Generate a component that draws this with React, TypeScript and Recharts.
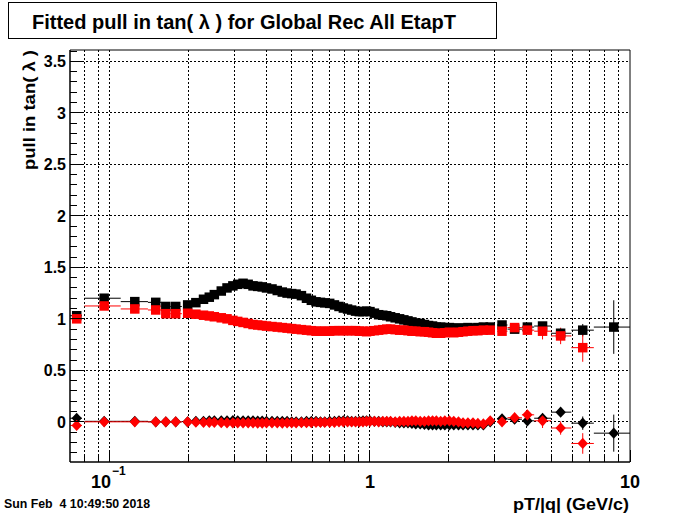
import React from 'react';
import { ScatterChart, Scatter, XAxis, YAxis, CartesianGrid, ErrorBar, ReferenceArea } from 'recharts';

// ---------- data ----------
const PT = [
  0.0745, 0.095, 0.1246, 0.150, 0.164, 0.179,
  0.199, 0.214, 0.229, 0.241, 0.252,
  0.268, 0.282, 0.297, 0.31, 0.325,
  0.34, 0.355, 0.37, 0.385, 0.40,
  0.42, 0.44, 0.46, 0.48, 0.50,
  0.52, 0.545, 0.57, 0.595, 0.62,
  0.645, 0.67, 0.70, 0.73, 0.76,
  0.79, 0.82, 0.85, 0.88, 0.91,
  0.94, 0.97, 1.0, 1.04, 1.08,
  1.12, 1.16, 1.20, 1.25, 1.30,
  1.35, 1.40, 1.45, 1.50, 1.56,
  1.62, 1.68, 1.74, 1.80, 1.87,
  1.94, 2.02, 2.10, 2.19, 2.28,
  2.38, 2.49, 2.6, 2.73, 2.9,
  3.22, 3.60, 4.03, 4.61, 5.41, 6.58, 8.66,
];

const BLACK_SQ: (number | null)[] = [
  1.03, 1.20, 1.167, 1.16, 1.12, 1.12,
  1.135, 1.157, 1.19, 1.21, 1.235,
  1.27, 1.30, 1.32, 1.335, 1.345,
  1.335, 1.32, 1.315, 1.31, 1.30,
  1.29, 1.275, 1.26, 1.25, 1.245,
  1.24, 1.225, 1.20, 1.18, 1.165,
  1.16, 1.155, 1.15, 1.135, 1.12,
  1.105, 1.095, 1.085, 1.075, 1.07,
  1.07, 1.075, 1.07, 1.055, 1.04,
  1.035, 1.03, 1.02, 1.01, 1.0,
  0.99, 0.98, 0.97, 0.96, 0.955,
  0.945, 0.935, 0.93, 0.92, 0.92,
  0.915, 0.915, 0.91, 0.91, 0.91,
  0.915, 0.91, 0.915, 0.92, 0.92,
  0.94, 0.90, 0.92, 0.93, 0.86, 0.89, 0.92,
];

const RED_SQ: (number | null)[] = [
  1.00, 1.125, 1.096, 1.086, 1.05, 1.05,
  1.054, 1.045, 1.035, 1.028, 1.02,
  1.01, 1.00, 0.985, 0.975, 0.965,
  0.955, 0.945, 0.94, 0.935, 0.93,
  0.925, 0.92, 0.915, 0.91, 0.905,
  0.90, 0.895, 0.89, 0.885, 0.88,
  0.88, 0.88, 0.88, 0.885, 0.885,
  0.885, 0.885, 0.885, 0.885, 0.88,
  0.88, 0.875, 0.88, 0.885, 0.89,
  0.895, 0.90, 0.90, 0.895, 0.89,
  0.89, 0.885, 0.88, 0.88, 0.875,
  0.875, 0.87, 0.865, 0.86, 0.86,
  0.865, 0.87, 0.865, 0.87, 0.875,
  0.88, 0.885, 0.885, 0.89, 0.89,
  0.88, 0.915, 0.89, 0.88, 0.834, 0.72, null,
];

const BLACK_DI: (number | null)[] = [
  0.035, 0.005, 0.005, 0.0, 0.0, 0.0,
  0.0, 0.005, 0.005, 0.01, 0.01,
  0.01, 0.01, 0.012, 0.01, 0.01,
  0.01, 0.01, 0.008, 0.008, 0.005,
  0.005, 0.005, 0.005, 0.005, 0.0,
  0.0, 0.0, 0.005, 0.005, 0.005,
  0.0, 0.0, 0.005, 0.005, 0.01,
  0.01, 0.01, 0.005, 0.005, 0.005,
  0.01, 0.01, 0.01, 0.005, 0.005,
  0.0, 0.0, 0.0, -0.005, -0.01,
  -0.01, -0.01, -0.015, -0.02, -0.02,
  -0.025, -0.03, -0.03, -0.03, -0.03,
  -0.03, -0.03, -0.03, -0.03, -0.03,
  -0.03, -0.03, -0.03, -0.03, 0.0,
  0.03, 0.025, 0.01, 0.035, 0.094, -0.013, -0.11,
];

const RED_DI: (number | null)[] = [
  -0.035, 0.0, 0.0, 0.0, 0.0, 0.0,
  0.0, -0.003, -0.005, -0.005, -0.005,
  -0.008, -0.01, -0.01, -0.01, -0.01,
  -0.01, -0.01, -0.012, -0.012, -0.01,
  -0.01, -0.01, -0.012, -0.01, -0.01,
  -0.01, -0.008, -0.008, -0.008, -0.005,
  -0.005, -0.005, -0.005, -0.005, 0.0,
  0.0, 0.0, 0.0, 0.0, 0.0,
  0.0, 0.005, 0.005, 0.005, 0.0,
  0.005, 0.005, 0.005, 0.0, 0.005,
  0.005, 0.005, 0.01, 0.01, 0.005,
  0.005, 0.01, 0.01, 0.01, 0.005,
  0.01, 0.01, 0.005, 0.0, -0.01,
  -0.01, -0.01, -0.015, -0.02, 0.01,
  0.0, 0.04, 0.068, 0.01, -0.06, -0.21, null,
];

// bin edges (horizontal error bars) where visible
const BIN_PT = [0.0745, 0.095, 0.1246, 0.150, 0.164, 0.179, 3.22, 3.60, 4.03, 4.61, 5.41, 6.58, 8.66];
const BIN_LO = [0.0702, 0.0798, 0.110, 0.140, 0.158, 0.171, 3.08, 3.38, 3.84, 4.28, 4.97, 5.95, 7.26];
const BIN_HI = [0.078, 0.110, 0.140, 0.158, 0.171, 0.189, 3.38, 3.84, 4.28, 4.97, 5.95, 7.26, 10];

// vertical errors where visible
const ERR_PT = [4.03, 4.61, 5.41, 6.58, 8.66];
const BLACK_SQ_ERR = [0, 0.03, 0.03, 0.06, 0.26];
const RED_SQ_ERR = [0.03, 0.08, 0.08, 0.137, 0];
const BLACK_DI_ERR = [0, 0.02, 0.04, 0.065, 0.18];
const RED_DI_ERR = [0.03, 0.07, 0.065, 0.1, 0];

// axes
const XMIN = 0.0702;
const XMAX = 10;
const YMIN = -0.39;
const YMAX = 3.61;
const X_TICKS = [0.08, 0.09, 0.1, 0.2, 0.3, 0.4, 0.5, 0.6, 0.7, 0.8, 0.9, 1, 2, 3, 4, 5, 6, 7, 8, 9, 10];
const X_MAJOR = [0.1, 1, 10];
const X_MAJOR_BASE = ['10', '1', '10'];
const X_MAJOR_EXP = ['\u22121', '', ''];
const X_GRID = [0.08, 0.09, 0.1, 0.2, 0.3, 0.4, 0.5, 0.6, 0.7, 0.8, 0.9, 1, 2, 3, 4, 5, 6, 7, 8, 9];
const Y_MAJOR = [0, 0.5, 1, 1.5, 2, 2.5, 3, 3.5];
const Y_MAJOR_LABELS = ['0', '0.5', '1', '1.5', '2', '2.5', '3', '3.5'];
const Y_TICKS = [
  -0.3, -0.2, -0.1, 0, 0.1, 0.2, 0.3, 0.4, 0.5, 0.6, 0.7, 0.8, 0.9, 1,
  1.1, 1.2, 1.3, 1.4, 1.5, 1.6, 1.7, 1.8, 1.9, 2, 2.1, 2.2, 2.3, 2.4, 2.5,
  2.6, 2.7, 2.8, 2.9, 3, 3.1, 3.2, 3.3, 3.4, 3.5, 3.6,
];

const TITLE = 'Fitted pull in tan( \u03bb ) for Global Rec All EtapT';
const Y_TITLE = 'pull in tan( \u03bb )';
const X_TITLE = 'pT/|q| (GeV/c)';
const DATE = 'Sun Feb  4 10:49:50 2018';

const FONT = '"Liberation Sans", Arial, Helvetica, sans-serif';
const RED = '#ff0000';

function buildRows(vals: (number | null)[], errs: number[]) {
  const out: any[] = [];
  PT.forEach((pt, i) => {
    const v = vals[i];
    if (v === null || v === undefined) return;
    const bi = BIN_PT.indexOf(pt);
    const ei = ERR_PT.indexOf(pt);
    out.push({
      pt,
      v,
      ex: bi >= 0 ? [pt - BIN_LO[bi], BIN_HI[bi] - pt] : [0, 0],
      ey: ei >= 0 ? errs[ei] : 0,
    });
  });
  return out;
}

const blackSq = buildRows(BLACK_SQ, BLACK_SQ_ERR);
const redSq = buildRows(RED_SQ, RED_SQ_ERR);
const blackDi = buildRows(BLACK_DI, BLACK_DI_ERR);
const redDi = buildRows(RED_DI, RED_DI_ERR);

const squareShape = (color: string) => (props: any) => {
  const { cx, cy } = props;
  if (cx == null || cy == null) return <g />;
  const s = 9.5;
  return <rect x={cx - s / 2} y={cy - s / 2} width={s} height={s} fill={color} />;
};

const diamondShape = (color: string) => (props: any) => {
  const { cx, cy } = props;
  if (cx == null || cy == null) return <g />;
  const w = 5.2;
  const h = 5.6;
  return (
    <polygon
      points={`${cx},${cy - h} ${cx + w},${cy} ${cx},${cy + h} ${cx - w},${cy}`}
      fill={color}
    />
  );
};

const XTick = (props: any) => {
  const { x, y, payload } = props;
  const v = payload.value;
  const mi = X_MAJOR.indexOf(v);
  const len = mi >= 0 ? 12 : 7;
  const hasExp = mi >= 0 && X_MAJOR_EXP[mi] !== '';
  return (
    <g>
      <line x1={x} x2={x} y1={y} y2={y - len} stroke="#000" strokeWidth={1} shapeRendering="crispEdges" />
      {mi >= 0 && (
        <text
          x={hasExp ? x + 1 : x}
          y={y + 26}
          textAnchor={hasExp ? 'end' : 'middle'}
          fontFamily={FONT}
          fontWeight="bold"
          fontSize={18}
          fill="#000"
        >
          {X_MAJOR_BASE[mi]}
        </text>
      )}
      {hasExp && (
        <text x={x + 2} y={y + 13} textAnchor="start" fontFamily={FONT} fontWeight="bold" fontSize={12} fill="#000">
          {X_MAJOR_EXP[mi]}
        </text>
      )}
    </g>
  );
};

const YTick = (props: any) => {
  const { x, y, payload } = props;
  const v = payload.value;
  const mi = Y_MAJOR.indexOf(v);
  const len = mi >= 0 ? 14 : 7;
  return (
    <g>
      <line x1={x} x2={x + len} y1={y} y2={y} stroke="#000" strokeWidth={1} shapeRendering="crispEdges" />
      {mi >= 0 && (
        <text x={x - 4} y={y + 5.7} textAnchor="end" fontFamily={FONT} fontWeight="bold" fontSize={16} fill="#000">
          {Y_MAJOR_LABELS[mi]}
        </text>
      )}
    </g>
  );
};

const scaleOf = (axis: any) => {
  const s = axis && axis.scale;
  if (typeof s === 'function') return (v: number) => s(v);
  if (s && typeof s.map === 'function') return (v: number) => s.map(v);
  return null;
};

export default function App() {
  return (
    <div style={{ position: 'absolute', left: 0, top: 0, width: 700, height: 514, background: '#fff' }}>
      <ScatterChart width={700} height={514} margin={{ top: 50, right: 70, bottom: 22, left: 30 }}>
        <CartesianGrid
          stroke="#000"
          strokeDasharray="2 2"
          shapeRendering="crispEdges"
          horizontalCoordinatesGenerator={(p: any) => {
            const f = scaleOf(p.yAxis);
            return f ? Y_MAJOR.map(f) : [];
          }}
          verticalCoordinatesGenerator={(p: any) => {
            const f = scaleOf(p.xAxis);
            return f ? X_GRID.map(f) : [];
          }}
        />
        <XAxis
          type="number"
          dataKey="pt"
          scale="log"
          domain={[XMIN, XMAX]}
          allowDataOverflow
          ticks={X_TICKS}
          interval={0}
          height={30}
          tickSize={0}
          tickMargin={0}
          tickLine={false}
          axisLine={{ stroke: '#000' }}
          tick={<XTick />}
        />
        <YAxis
          type="number"
          dataKey="v"
          domain={[YMIN, YMAX]}
          allowDataOverflow
          ticks={Y_TICKS}
          interval={0}
          width={40}
          tickSize={0}
          tickMargin={0}
          tickLine={false}
          axisLine={{ stroke: '#000' }}
          tick={<YTick />}
        />
        <ReferenceArea x1={XMIN} x2={XMAX} y1={YMIN} y2={YMAX} fill="none" fillOpacity={0} stroke="#000" strokeWidth={1} ifOverflow="visible" />
        <Scatter data={blackSq} fill="#000" shape={squareShape('#000')} isAnimationActive={false}>
          <ErrorBar dataKey="ex" direction="x" width={0} stroke="#000" strokeWidth={1} />
          <ErrorBar dataKey="ey" direction="y" width={0} stroke="#000" strokeWidth={1} />
        </Scatter>
        <Scatter data={redSq} fill={RED} shape={squareShape(RED)} isAnimationActive={false}>
          <ErrorBar dataKey="ex" direction="x" width={0} stroke={RED} strokeWidth={1} />
          <ErrorBar dataKey="ey" direction="y" width={0} stroke={RED} strokeWidth={1} />
        </Scatter>
        <Scatter data={blackDi} fill="#000" shape={diamondShape('#000')} isAnimationActive={false}>
          <ErrorBar dataKey="ex" direction="x" width={0} stroke="#000" strokeWidth={1} />
          <ErrorBar dataKey="ey" direction="y" width={0} stroke="#000" strokeWidth={1} />
        </Scatter>
        <Scatter data={redDi} fill={RED} shape={diamondShape(RED)} isAnimationActive={false}>
          <ErrorBar dataKey="ex" direction="x" width={0} stroke={RED} strokeWidth={1} />
          <ErrorBar dataKey="ey" direction="y" width={0} stroke={RED} strokeWidth={1} />
        </Scatter>
      </ScatterChart>
      <svg width={700} height={514} style={{ position: 'absolute', left: 0, top: 0, pointerEvents: 'none' }}>
        <rect x={8.5} y={2.5} width={488} height={36} fill="#fff" stroke="#000" strokeWidth={1} />
        <text x={32} y={28.5} fontFamily={FONT} fontWeight="bold" fontSize={20} fill="#000" textLength={424} lengthAdjust="spacingAndGlyphs">
          {TITLE}
        </text>
        <text
          transform="translate(35,50) rotate(-90)"
          x={0}
          y={0}
          textAnchor="end"
          fontFamily={FONT}
          fontWeight="bold"
          fontSize={17}
          fill="#000"
          textLength={120}
          lengthAdjust="spacingAndGlyphs"
        >
          {Y_TITLE}
        </text>
        <text x={629} y={510} textAnchor="end" fontFamily={FONT} fontWeight="bold" fontSize={17} fill="#000" textLength={116} lengthAdjust="spacingAndGlyphs">
          {X_TITLE}
        </text>
        <text x={4} y={508} fontFamily={FONT} fontWeight="bold" fontSize={12} fill="#000" textLength={146} lengthAdjust="spacingAndGlyphs" style={{ whiteSpace: 'pre' }}>
          {DATE}
        </text>
      </svg>
    </div>
  );
}
